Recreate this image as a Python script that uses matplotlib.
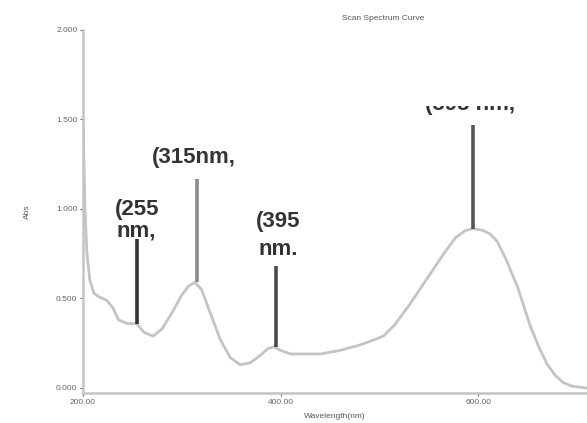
import matplotlib
matplotlib.use('Agg')
from matplotlib import pyplot as plt
from matplotlib.patches import Rectangle

# scan spectrum
wavelength = [200, 202, 204, 207, 211, 216, 224, 230, 236, 245, 254, 262, 271,
              280, 290, 300, 307, 313, 320, 328, 339, 349, 359, 369, 379, 387,
              393, 400, 410, 425, 440, 460, 480, 495, 504, 515, 531, 548, 565,
              577, 587, 595, 605, 612, 619, 628, 640, 653, 662, 670, 678, 686,
              695, 710]
absorbance = [1.50, 1.00, 0.75, 0.60, 0.53, 0.51, 0.49, 0.45, 0.38, 0.36, 0.36,
              0.31, 0.29, 0.33, 0.42, 0.52, 0.57, 0.59, 0.55, 0.43, 0.27, 0.17,
              0.13, 0.14, 0.18, 0.22, 0.23, 0.21, 0.19, 0.19, 0.19, 0.21, 0.24,
              0.27, 0.29, 0.35, 0.47, 0.61, 0.75, 0.84, 0.88, 0.89, 0.88, 0.86,
              0.82, 0.72, 0.56, 0.34, 0.22, 0.13, 0.07, 0.03, 0.01, 0.00]

# peak markers
peak_nm = [255, 315, 395, 595]
peak_abs = [0.36, 0.59, 0.23, 0.89]
marker_top = [0.83, 1.17, 0.68, 1.47]
marker_color = ['#333333', '#8a8a8a', '#4a4a4a', '#555555']

# label lines (x in nm, baseline in abs)
label_text = ['(255', 'nm,', '(315nm,', '(395', 'nm.', '(595 nm,']
label_x = [232, 234, 270, 375, 378, 546]
label_y = [0.966, 0.849, 1.255, 0.899, 0.743, 1.553]

yticks = [0.0, 0.5, 1.0, 1.5, 2.0]
xticks = [200, 400, 600]

plt.rcParams['font.family'] = ['Liberation Sans', 'DejaVu Sans']

fig = plt.figure(figsize=(5.87, 4.23), dpi=100)
ax = fig.add_axes([0.1414, 0.0709, 0.8586, 0.8582])

ax.plot(wavelength, absorbance, color='#c4c4c4', lw=2.0, zorder=2)

for nm, a, top, c in zip(peak_nm, peak_abs, marker_top, marker_color):
    ax.plot([nm, nm], [a, top], color=c, lw=2.6, solid_capstyle='butt', zorder=3)

for tx, ty, s in zip(label_x, label_y, label_text):
    ax.text(tx, ty, s, fontsize=16, fontweight='bold', color='#333333',
            ha='left', va='baseline', zorder=4)

# the last label is partly hidden in the original
ax.add_patch(Rectangle((540, 1.578), 110, 0.2, facecolor='white', edgecolor='none', zorder=5))

ax.set_xlim(200, 710)
ax.set_ylim(-0.028, 2.0)
ax.set_xticks(xticks)
ax.set_xticklabels(['%.2f' % v for v in xticks])
ax.set_yticks(yticks)
ax.set_yticklabels(['%.3f' % v for v in yticks])
ax.tick_params(labelsize=6, colors='#666666', length=2, width=0.8, pad=2)

for side in ['top', 'right']:
    ax.spines[side].set_visible(False)
for side in ['left', 'bottom']:
    ax.spines[side].set_color('#c4c4c4')
    ax.spines[side].set_linewidth(1.8)

ax.set_xlabel('Wavelength(nm)', fontsize=6, color='#555555', labelpad=5)
ax.set_ylabel('Abs', fontsize=6, color='#555555', labelpad=18)
fig.text(0.652, 0.957, 'Scan Spectrum Curve', fontsize=6, color='#555555', ha='center', va='center')

fig.savefig('out.png', dpi=100)
